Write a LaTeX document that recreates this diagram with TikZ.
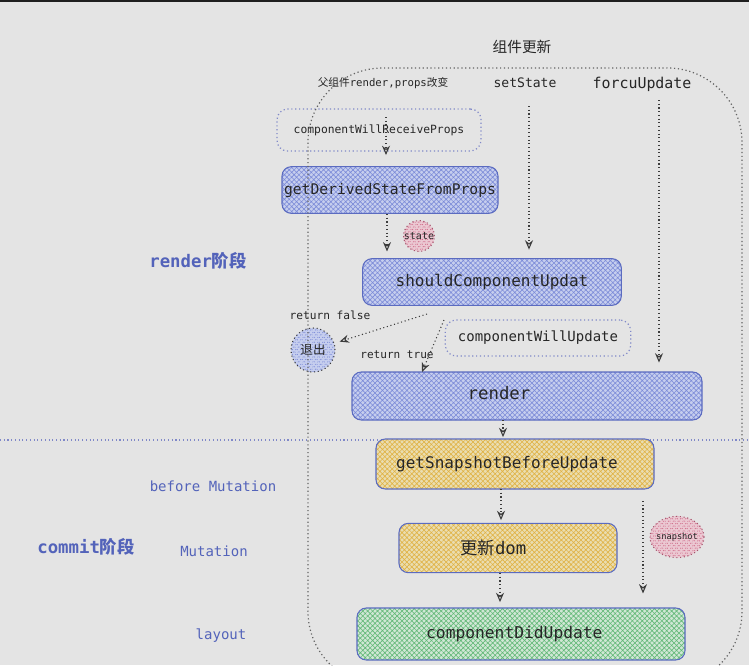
\documentclass[tikz,border=0pt]{standalone}
\usepackage{fontspec}
\setmainfont{DejaVu Sans Mono}
\setmonofont{DejaVu Sans Mono}
\newfontfamily\cjk{Noto Sans CJK SC}
\usetikzlibrary{arrows.meta,patterns.meta,shapes.geometric}

\definecolor{bgcol}{HTML}{E4E4E4}
\definecolor{topband}{HTML}{1F1F1F}
\definecolor{boxline}{HTML}{5B6BC0}
\definecolor{bluefill}{HTML}{C6CEEE}
\definecolor{bluehatch}{HTML}{7C8BD8}
\definecolor{yellowfill}{HTML}{EADDB0}
\definecolor{yellowhatch}{HTML}{E0B244}
\definecolor{greenfill}{HTML}{D0E7D5}
\definecolor{greenhatch}{HTML}{62B877}
\definecolor{pinkfill}{HTML}{EBC8D2}
\definecolor{pinkhatch}{HTML}{D06C8A}
\definecolor{dotline}{HTML}{8088C8}
\definecolor{arrowgray}{HTML}{3C3C3C}
\definecolor{phaseblue}{HTML}{5363BA}
\definecolor{textdark}{HTML}{262626}

\begin{document}
\begin{tikzpicture}[
  x=0.75pt,y=-0.75pt,
  every node/.style={text=textdark},
  box/.style={draw=boxline,line width=0.8pt,rounded corners=7pt,inner sep=0pt},
  bluebox/.style={box,preaction={fill=bluefill},
    pattern={Hatch[angle=45,distance=2.6pt,line width=0.45pt]},pattern color=bluehatch},
  yellowbox/.style={box,preaction={fill=yellowfill},
    pattern={Hatch[angle=45,distance=2.6pt,line width=0.45pt]},pattern color=yellowhatch},
  greenbox/.style={box,preaction={fill=greenfill},
    pattern={Hatch[angle=45,distance=2.6pt,line width=0.45pt]},pattern color=greenhatch},
  dotbox/.style={draw=dotline,dotted,line width=0.9pt,rounded corners=8pt},
  bluedot/.style={circle,draw=arrowgray,dotted,line width=0.8pt,inner sep=0pt,
    preaction={fill=bluefill},
    pattern={Hatch[angle=45,distance=2.6pt,line width=0.45pt]},pattern color=bluehatch},
  pinkdot/.style={draw=pinkhatch!80!black,dotted,line width=0.8pt,inner sep=0pt,
    preaction={fill=pinkfill},
    pattern={Hatch[angle=45,distance=2.6pt,line width=0.45pt]},pattern color=pinkhatch},
  flow/.style={draw=arrowgray,dotted,line width=0.8pt,-{Stealth[open,length=7pt,width=6pt]}},
  phase/.style={text=phaseblue}
]

\clip (0,0) rectangle (749,665);
\fill[bgcol] (0,0) rectangle (749,665);
\fill[topband] (0,0) rectangle (749,2);

% phase divider
\draw[dotline,dotted,line width=0.8pt] (0,440) -- (749,440);

% triggers
\node[font=\cjk\fontsize{11}{13}\selectfont] (title) at (522,47) {组件更新};
\node[font=\fontsize{8}{10}\selectfont] (parent) at (383,83) {{\cjk 父组件}render,props{\cjk 改变}};
\node[font=\fontsize{9.8}{12}\selectfont] (setstate) at (525,83) {setState};
\node[font=\fontsize{11.2}{13}\selectfont] (forceup) at (642,84) {forcuUpdate};

% render phase
\node[dotbox,minimum width=153pt,minimum height=31.5pt,font=\fontsize{8.5}{10}\selectfont] (willrecv) at (379,130) {componentWillReceiveProps};
\node[bluebox,minimum width=162pt,minimum height=35pt,font=\fontsize{11}{13}\selectfont] (derived) at (390,190) {getDerivedStateFromProps};
\node[pinkdot,circle,font=\fontsize{7.5}{9}\selectfont] (state) at (419,236) {state};
\node[bluebox,minimum width=194pt,minimum height=35pt,font=\fontsize{12}{14}\selectfont] (should) at (492,282) {shouldComponentUpdat};
\node[font=\fontsize{8.4}{10}\selectfont] (retfalse) at (330,315) {return false};
\node[bluedot,minimum size=33pt,font=\cjk\fontsize{9.4}{11}\selectfont] (quit) at (313,350) {退出};
\node[dotbox,minimum width=139pt,minimum height=27pt,font=\fontsize{10.5}{12}\selectfont] (willupd) at (538,338) {componentWillUpdate};
\node[font=\fontsize{8.3}{10}\selectfont] (rettrue) at (397,355) {return true};
\node[bluebox,minimum width=262.5pt,minimum height=36pt,font=\fontsize{13}{15}\selectfont] (render) at (527,396) {\hspace*{-42pt}\raisebox{4pt}{render}};

% commit phase
\node[yellowbox,minimum width=208.5pt,minimum height=37.5pt,font=\fontsize{12}{14}\selectfont] (snapbefore) at (515,464) {\hspace*{-12pt}getSnapshotBeforeUpdate};
\node[yellowbox,minimum width=163.5pt,minimum height=37pt,font=\fontsize{13}{15}\selectfont] (dom) at (508,548) {\hspace*{-22pt}{\cjk 更新}dom};
\node[pinkdot,ellipse,inner sep=-2pt,minimum width=40.5pt,minimum height=31pt,font=\fontsize{6.5}{8}\selectfont] (snapshot) at (677,537) {snapshot};
\node[greenbox,minimum width=246pt,minimum height=39pt,font=\fontsize{12.2}{14}\selectfont] (didupd) at (521,634) {\hspace*{-10pt}componentDidUpdate};

% phase labels
\node[phase,font=\fontsize{13}{15}\selectfont\bfseries] (renderphase) at (198,261) {render{\cjk 阶段}};
\node[phase,font=\fontsize{10.5}{12}\selectfont] (beforemut) at (213,486) {before Mutation};
\node[phase,font=\fontsize{13}{15}\selectfont\bfseries] (commitphase) at (86,547) {commit{\cjk 阶段}};
\node[phase,font=\fontsize{10.5}{12}\selectfont] (mutation) at (214,551) {Mutation};
\node[phase,font=\fontsize{10.5}{12}\selectfont] (layout) at (221,636) {layout};

% connectors
\coordinate (recvIn) at (386,117);
\coordinate (derivedOut) at (387,214);
\coordinate (setIn) at (529,106);
\coordinate (forceIn) at (659,100);
\coordinate (falseOut) at (427,314);
\coordinate (trueOut) at (444,320);
\coordinate (trueIn) at (422,372);
\coordinate (renderOut) at (503,420);
\coordinate (snapOut) at (501,489);
\coordinate (domOut) at (500,573);
\coordinate (snapIn) at (643,501);

\draw[flow,shorten >=8.5pt] (recvIn) -- (recvIn |- derived.north);
\draw[flow,shorten >=5pt] (derivedOut) -- (derivedOut |- should.north);
\draw[flow,shorten >=6.4pt] (setIn) -- (setIn |- should.north);
\draw[flow,shorten >=6.7pt] (forceIn) -- (forceIn |- render.north);
\draw[flow,shorten >=4pt] (falseOut) -- (quit);
\draw[flow] (trueOut) -- (trueIn);
\draw[flow,shorten >=1pt] (renderOut) -- (renderOut |- snapbefore.north);
\draw[flow,shorten >=2pt] (snapOut) -- (snapOut |- dom.north);
\draw[flow,shorten >=4pt] (domOut) -- (domOut |- didupd.north);
\draw[flow,shorten >=10.5pt] (snapIn) -- (snapIn |- didupd.north);

% update scope outline
\draw[arrowgray!80,dotted,line width=0.9pt,rounded corners=56pt] (308,68) rectangle (742,686);

\end{tikzpicture}
\end{document}
